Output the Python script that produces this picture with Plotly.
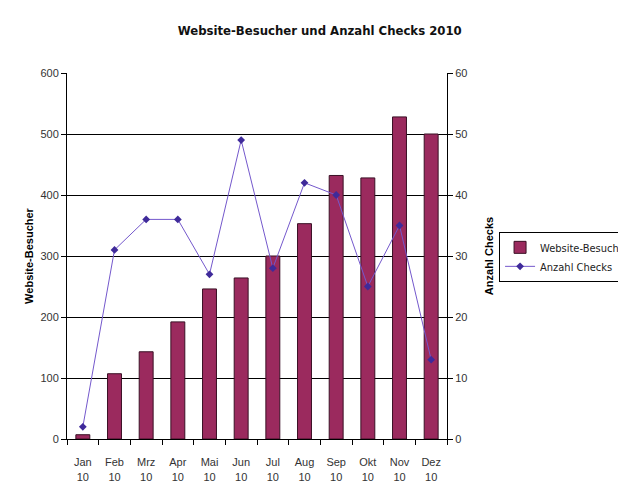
import plotly.graph_objects as go

months = ["Jan", "Feb", "Mrz", "Apr", "Mai", "Jun",
          "Jul", "Aug", "Sep", "Okt", "Nov", "Dez"]
year_label = "10"
besucher = [7, 107, 143, 192, 246, 264, 300, 353, 432, 428, 528, 500]
checks = [2, 31, 36, 36, 27, 49, 28, 42, 40, 25, 35, 13]

categories = [m + "<br>" + year_label for m in months]

fig = go.Figure()

fig.add_trace(go.Bar(
    x=categories, y=besucher, name="Website-Besucher",
    marker=dict(color="#9B2A5E", line=dict(color="#3a1025", width=1)),
    width=0.44,
))

fig.add_trace(go.Scatter(
    x=categories, y=checks, name="Anzahl Checks", yaxis="y2",
    mode="lines+markers",
    line=dict(color="#7458CC", width=1),
    marker=dict(symbol="diamond", size=6, color="#3F2A9A"),
))

tick_font = dict(family="Liberation Sans, Arial", size=11, color="#333333")

# the page body adds an 8px offset, margins are corrected for it
fig.update_layout(
    width=626, height=483,
    margin=dict(l=59, r=187, t=65, b=52, autoexpand=False),
    paper_bgcolor="white", plot_bgcolor="white",
    title=dict(text="<b>Website-Besucher und Anzahl Checks 2010</b>",
               x=0.498, xanchor="center", y=0.954, yanchor="middle",
               font=dict(family="DejaVu Sans Condensed, Liberation Sans Narrow, Arial",
                         size=13, color="#111111")),
    xaxis=dict(showline=True, linecolor="black", linewidth=1,
               ticks="outside", tickson="boundaries", ticklen=5,
               tickcolor="black", tickfont=tick_font, ticklabelstandoff=13,
               showgrid=False, range=[-0.5, 11.5]),
    yaxis=dict(range=[0, 600], dtick=100, showline=True, linecolor="black",
               linewidth=1, ticks="outside", ticklen=5, tickcolor="black",
               showgrid=True, gridcolor="black", gridwidth=1,
               tickfont=tick_font, zeroline=False,
               title=dict(text="<b>Website-Besucher</b>", standoff=4,
                          font=dict(family="Liberation Sans, Arial", size=11,
                                    color="black"))),
    yaxis2=dict(range=[0, 60], dtick=10, overlaying="y", side="right",
                showline=True, linecolor="black", linewidth=1,
                ticks="outside", ticklen=5, tickcolor="black",
                showgrid=False, zeroline=False, tickfont=tick_font,
                title=dict(text="<b>Anzahl Checks</b>", standoff=18,
                           font=dict(family="Liberation Sans, Arial", size=11,
                                     color="black"))),
    legend=dict(x=1.137, y=0.566, xanchor="left", yanchor="top",
                bordercolor="black", borderwidth=1, bgcolor="white",
                font=dict(family="DejaVu Sans Condensed, Liberation Sans Narrow, Arial",
                          size=11, color="#222222"),
                tracegroupgap=2),
    showlegend=True,
)

# cropped box at the left edge of the original picture
fig.add_shape(type="rect", xref="paper", yref="paper",
              x0=-0.19, x1=-0.166, y0=0.38, y1=0.68,
              line=dict(color="black", width=1))

fig.write_html("out.html")
